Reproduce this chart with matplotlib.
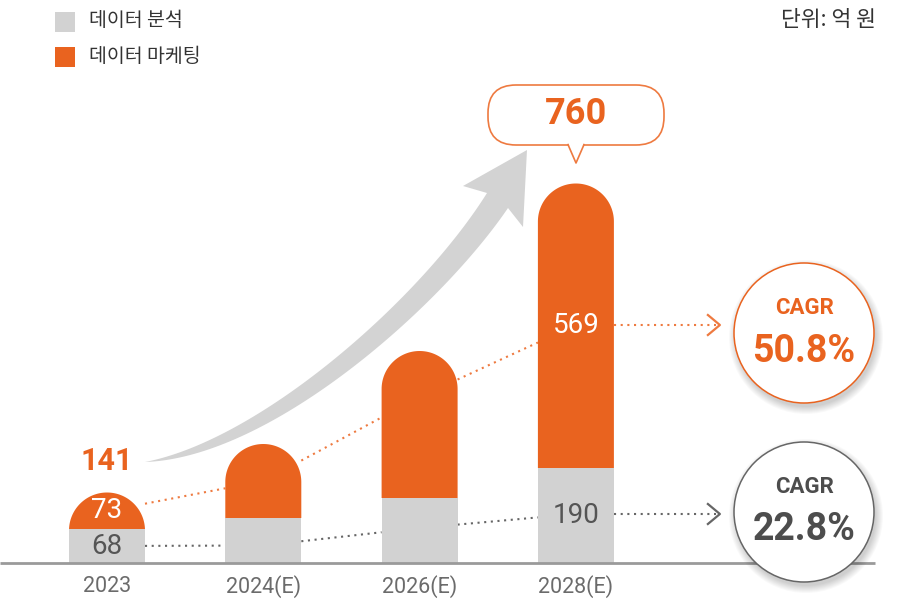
import numpy as np
import matplotlib.pyplot as plt
from matplotlib.patches import Rectangle, Circle, FancyBboxPatch, Polygon

# values (unit: 억 원)
years = ['2023', '2024(E)', '2026(E)', '2028(E)']
analysis = [68, 90, 130, 190]        # 데이터 분석
marketing = [73, 148, 294, 569]      # 데이터 마케팅
totals = [141, 238, 424, 760]
# dotted guide levels through each bar
analysis_guide = [34, 35, 70, 98]
marketing_guide = [104, 164, 332, 476]
cagr_marketing = '50.8%'
cagr_analysis = '22.8%'

ORANGE = '#E9631F'
GRAY = '#D2D2D2'
KR = ['Noto Sans CJK KR', 'DejaVu Sans']
NUM = ['Roboto', 'DejaVu Sans']

W, H = 898, 604
fig = plt.figure(figsize=(W / 100, H / 100), dpi=100)

# main data axes: 1 category = 156.3 px, 1 unit = 0.5 px, baseline 41 px from bottom
step_px, unit_px, base_px, left_px = 156.3, 0.5, 41, 107
ax = fig.add_axes([0, 0, 1, 1])
ax.set_xlim(-left_px / step_px, (W - left_px) / step_px)
ax.set_ylim(-base_px / unit_px, (H - base_px) / unit_px)
ax.axis('off')
px_x = 1 / step_px
px_y = 1 / unit_px

bw = 76 * px_x
ry = 38 * px_y
xs = np.arange(len(years))

ax.bar(xs, analysis, width=bw, color=GRAY, zorder=2)

th = np.linspace(0, np.pi, 80)
for x, b, t in zip(xs, analysis, np.add(analysis, marketing)):
    cy = t - ry
    ax_ = x + bw / 2 * np.cos(th)
    ay = np.maximum(cy + ry * np.sin(th), b)
    verts = [(x + bw / 2, b)] + list(zip(ax_, ay)) + [(x - bw / 2, b)]
    ax.add_patch(Polygon(verts, closed=True, fc=ORANGE, ec='none', zorder=2))

# baseline
ax.plot([ax.get_xlim()[0], ax.get_xlim()[0] + 875 * px_x], [0, 0],
        color='#9a9a9a', lw=2, zorder=4, solid_capstyle='butt')

# year labels
for x, y in zip(xs, years):
    ax.text(x, -48, y, ha='center', va='center', fontsize=15.5,
            color='#6b6b6b', family=NUM)

# dotted guides between bars, then to the CAGR circles
end_x = 3 + (716 - 576) * px_x
tip_x = 3 + (720 - 576) * px_x
for guide, col in [(analysis_guide, '#666666'), (marketing_guide, '#EE7A40')]:
    for i in range(len(xs) - 1):
        x1, x2 = xs[i] + bw / 2, xs[i + 1] - bw / 2
        y1 = guide[i] + (guide[i + 1] - guide[i]) * (bw / 2)
        y2 = guide[i + 1] - (guide[i + 1] - guide[i]) * (bw / 2)
        ax.plot([x1, x2], [y1, y2], color=col, lw=1.5,
                linestyle=(0, (1, 2.2)), zorder=1)
    ax.plot([xs[-1] + bw / 2, end_x], [guide[-1], guide[-1]], color=col,
            lw=1.5, linestyle=(0, (1, 2.2)), zorder=1)
    ax.plot([tip_x - 12 * px_x, tip_x, tip_x - 12 * px_x],
            [guide[-1] + 10 * px_y, guide[-1], guide[-1] - 10 * px_y],
            color=col, lw=1.6, zorder=1)

# value labels
ax.text(0, totals[0] + 64, str(totals[0]), ha='center', va='center',
        fontsize=22, fontweight='bold', color=ORANGE, family=NUM)
ax.text(0, analysis[0] + marketing[0] / 2, str(marketing[0]), ha='center',
        va='center', fontsize=20, color='white', family=NUM, zorder=3)
ax.text(0, analysis[0] / 2, str(analysis[0]), ha='center', va='center',
        fontsize=20, color='#555555', family=NUM, zorder=3)
ax.text(3, analysis[3] + marketing[3] / 2, str(marketing[3]), ha='center',
        va='center', fontsize=20, color='white', family=NUM, zorder=3)
ax.text(3, analysis[3] / 2, str(analysis[3]), ha='center', va='center',
        fontsize=20, color='#555555', family=NUM, zorder=3)

# overlay in pixel coordinates for decorations
ov = fig.add_axes([0, 0, 1, 1])
ov.set_xlim(0, W)
ov.set_ylim(H, 0)
ov.axis('off')
ov.patch.set_alpha(0)

# legend and unit
ov.add_patch(Rectangle((55, 12), 20, 20, fc=GRAY, ec='none'))
ov.add_patch(Rectangle((55, 47), 20, 20, fc=ORANGE, ec='none'))
ov.text(89, 21, '데이터 분석', va='center', fontsize=14, color='#333333', family=KR)
ov.text(89, 56, '데이터 마케팅', va='center', fontsize=14, color='#333333', family=KR)
ov.text(876, 20, '단위: 억 원', ha='right', va='center', fontsize=15.5,
        color='#333333', family=KR)

# big growth arrow
def bez(p0, p1, p2, p3, n=80):
    t = np.linspace(0, 1, n)[:, None]
    p0, p1, p2, p3 = map(np.array, (p0, p1, p2, p3))
    return (1 - t) ** 3 * p0 + 3 * (1 - t) ** 2 * t * p1 + 3 * (1 - t) * t ** 2 * p2 + t ** 3 * p3

upper = bez((145, 462), (260, 440), (420, 300), (487, 193))
lower = bez((145, 462), (270, 458), (440, 308), (508, 208))
head = [(463, 186), (527, 150), (523, 227)]
arrow = list(map(tuple, upper)) + head + list(map(tuple, lower[::-1]))
ov.add_patch(Polygon(arrow, closed=True, fc='#D3D3D3', ec='none'))

# 760 callout
ov.add_patch(FancyBboxPatch((488, 85), 176, 60,
                            boxstyle='round,pad=0,rounding_size=28',
                            fc='white', ec='#EE7A40', lw=1.2))
ov.add_patch(Polygon([(568, 143), (576, 162), (584, 143)], closed=True,
                     fc='white', ec='none', zorder=3))
ov.plot([568, 576, 584], [144.6, 163, 144.6], color='#EE7A40', lw=1.2, zorder=4)
ov.text(576, 114, str(totals[-1]), ha='center', va='center', fontsize=26,
        fontweight='bold', color=ORANGE, family=NUM)

# CAGR circles with soft shadow
for cy, ec, col, val in [(333, ORANGE, ORANGE, cagr_marketing),
                         (512, '#666666', '#4d4d4d', cagr_analysis)]:
    for k in range(8):
        ov.add_patch(Circle((806, cy + 4), 70 + k, fc='black', ec='none',
                            alpha=0.025))
    ov.add_patch(Circle((804, cy), 70, fc='white', ec=ec, lw=1.1))
    ov.text(804, cy - 25, 'CAGR', ha='center', va='center', fontsize=16,
            fontweight='bold', color=col, family=NUM)
    ov.text(804, cy + 18, val, ha='center', va='center', fontsize=27,
            fontweight='bold', color=col, family=NUM)

fig.savefig('out.png', dpi=100, facecolor='white')
